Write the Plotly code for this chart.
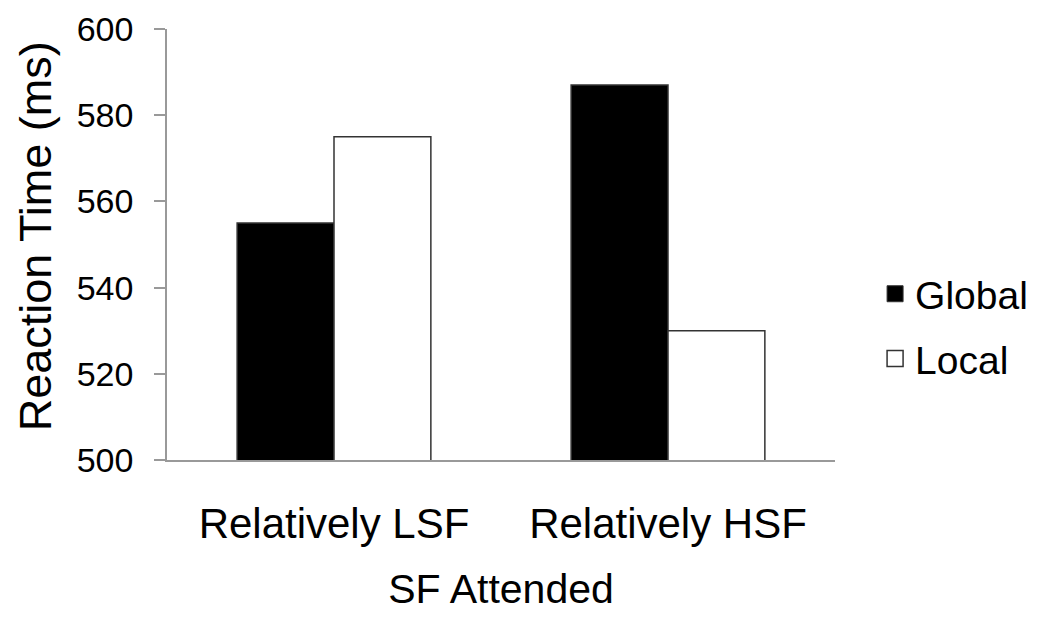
import plotly.graph_objects as go

categories = ["Relatively LSF", "Relatively HSF"]
global_rt = [555, 587]
local_rt = [575, 530]
y_ticks = [500, 520, 540, 560, 580, 600]

font = "Liberation Sans, Arial, sans-serif"
edge = "#333333"

fig = go.Figure()
fig.add_trace(go.Bar(x=categories, y=global_rt, name="Global", showlegend=False,
                     marker=dict(color="black", line=dict(color=edge, width=1.5))))
fig.add_trace(go.Bar(x=categories, y=local_rt, name="Local", showlegend=False,
                     marker=dict(color="white", line=dict(color=edge, width=1.5))))

# legend entries with bigger square swatches
fig.add_trace(go.Scatter(x=[None], y=[None], mode="markers", name="Global",
                         legendgroup="g", marker=dict(symbol="square", size=21, color="black",
                                                       line=dict(color=edge, width=1))))
fig.add_trace(go.Scatter(x=[None], y=[None], mode="markers", name="Local",
                         legendgroup="l", marker=dict(symbol="square", size=21, color="white",
                                                      line=dict(color=edge, width=1.5))))

# page body adds an 8px offset, so margins are shifted to compensate
fig.update_layout(
    width=1050, height=618,
    paper_bgcolor="white", plot_bgcolor="white",
    barmode="group", bargap=0.42, bargroupgap=0,
    margin=dict(l=159, r=223, t=21, b=166),
    font=dict(family=font, size=40, color="black"),
    legend=dict(x=1.06, y=0.31, xanchor="left", yanchor="middle",
                font=dict(size=39), tracegroupgap=11, itemsizing="trace"),
    annotations=[dict(text="Reaction Time (ms)", textangle=-90, showarrow=False,
                      xref="paper", yref="paper", x=-0.197, y=0.52,
                      xanchor="center", yanchor="middle", font=dict(size=45))],
)

fig.update_yaxes(
    range=[500, 600], tickvals=y_ticks, automargin=False,
    showline=True, linecolor="#999999", linewidth=1.5,
    ticks="outside", ticklen=11, tickcolor="#999999", tickwidth=1.5,
    ticklabelstandoff=14, ticklabeloverflow="allow",
    showgrid=False, zeroline=False,
    tickfont=dict(size=34),
)
fig.update_xaxes(
    automargin=False,
    showline=True, linecolor="#999999", linewidth=1.5,
    ticks="", ticklabelstandoff=26,
    tickfont=dict(size=42),
    title=dict(text="SF Attended", font=dict(size=41), standoff=28),
)

fig.write_html("out.html")
